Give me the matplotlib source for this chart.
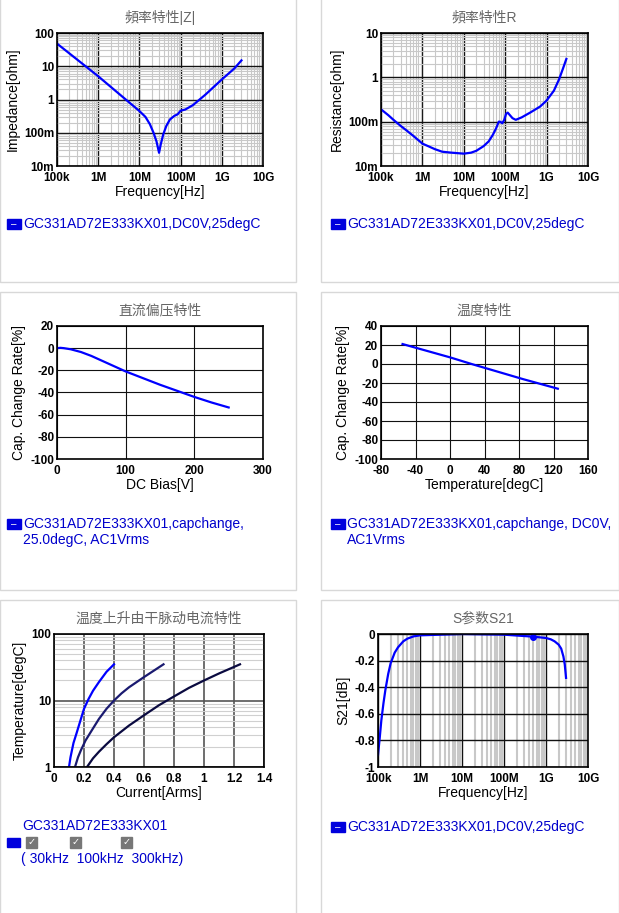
import numpy as np
import matplotlib.pyplot as plt
from matplotlib.patches import Rectangle
from matplotlib.ticker import NullFormatter, LogLocator

plt.rcParams["font.family"] = ["Liberation Sans", "Noto Sans CJK SC"]
plt.rcParams["axes.unicode_minus"] = False
W, H = 619, 913

# ── Data ──
z_f = [1e5, 1e6, 1e7, 1.4e7, 1.8e7, 2.2e7, 2.6e7, 3e7, 3.3e7, 3.8e7, 4.5e7, 5.5e7, 7e7, 8.5e7,
       1e8, 1.3e8, 2e8, 4e8, 1e9, 2e9, 3e9]
z_v = [48, 5, 0.45, 0.3, 0.18, 0.1, 0.055, 0.025, 0.045, 0.09, 0.16, 0.25, 0.32, 0.36,
       0.46, 0.5, 0.68, 1.4, 4, 8.5, 15]
r_f = [1e5, 1.5e5, 2e5, 3e5, 4e5, 6e5, 1e6, 2e6, 3e6, 5e6, 1e7, 1.5e7, 2e7, 3e7, 4e7, 5e7, 6e7,
       7e7, 7.5e7, 8.5e7, 9.5e7, 1.05e8, 1.15e8, 1.3e8, 1.5e8, 1.8e8, 2.5e8, 4e8, 7e8, 1e9,
       1.5e9, 2e9, 2.5e9, 3e9]
r_v = [0.19, 0.14, 0.11, 0.08, 0.065, 0.048, 0.032, 0.024, 0.021, 0.02, 0.019, 0.02, 0.022, 0.028,
       0.036, 0.05, 0.07, 0.1, 0.1, 0.092, 0.11, 0.15, 0.16, 0.14, 0.12, 0.11, 0.125, 0.16, 0.22,
       0.3, 0.5, 0.9, 1.6, 2.6]
dc_v = [0, 5, 10, 20, 35, 50, 75, 100, 125, 150, 175, 200, 225, 250]
dc_c = [0, 0.3, 0, -1, -3.5, -7, -14, -21, -27, -33, -38.5, -44, -49, -53.5]
t_t = [-55, 0, 25, 85, 125]
t_c = [21, 7, 0, -16, -26]
cur_30k = ([0.1, 0.11, 0.12, 0.13, 0.15, 0.17, 0.2, 0.23, 0.26, 0.3, 0.35, 0.4],
           [1, 1.4, 1.8, 2.3, 3.2, 4.5, 7.5, 10.5, 14, 19, 27, 35])
cur_100k = ([0.14, 0.16, 0.18, 0.21, 0.25, 0.3, 0.35, 0.4, 0.45, 0.5, 0.6, 0.73],
            [1, 1.4, 1.8, 2.5, 3.5, 5.3, 7.5, 10, 12.8, 15.8, 22.5, 35])
cur_300k = ([0.22, 0.26, 0.3, 0.35, 0.4, 0.5, 0.6, 0.7, 0.8, 0.9, 1.0, 1.1, 1.24],
            [1, 1.35, 1.7, 2.2, 2.8, 4.2, 6, 8.5, 11.5, 15.5, 20, 25.5, 35])
s_f = [1e5, 1.1e5, 1.2e5, 1.35e5, 1.5e5, 1.75e5, 2e5, 2.5e5, 3e5, 4e5, 5e5, 7e5, 1e6, 1e7, 1e8,
       5e8, 1e9, 1.3e9, 1.6e9, 2e9, 2.3e9, 2.6e9, 2.8e9, 3e9]
s_v = [-0.91, -0.78, -0.65, -0.52, -0.42, -0.3, -0.22, -0.14, -0.1, -0.055, -0.035, -0.018, -0.01,
       0.0, -0.005, -0.02, -0.03, -0.04, -0.055, -0.08, -0.11, -0.17, -0.23, -0.33]

BLUE = "#0000ff"
fig = plt.figure(figsize=(W / 100, H / 100), dpi=100)

# cell borders
for x0, x1 in [(0, 296), (321, 619)]:
    for y0, y1 in [(-2, 282), (292, 590), (600, 915)]:
        fig.patches.append(Rectangle((x0 / W, 1 - y1 / H), (x1 - x0) / W, (y1 - y0) / H,
                                     transform=fig.transFigure, fill=False, ec="#d8d8d8", lw=1))


def make_ax(x0, y0, x1, y1):
    return fig.add_axes([x0 / W, 1 - y1 / H, (x1 - x0) / W, (y1 - y0) / H])


def style(ax, title, xlabel, ylabel):
    ax.set_title(title, fontsize=10, color="#666666", pad=8)
    ax.set_xlabel(xlabel, fontsize=10, labelpad=1)
    ax.set_ylabel(ylabel, fontsize=10, labelpad=3)
    ax.tick_params(which="both", labelsize=8.5, length=0)
    ax.tick_params(axis="x", pad=4)
    ax.tick_params(axis="y", pad=2)
    for lab in ax.get_xticklabels() + ax.get_yticklabels():
        lab.set_fontweight("bold")
    for s in ax.spines.values():
        s.set_linewidth(1.2)


def freq_axis(ax):
    ax.set_xscale("log")
    ax.set_xlim(1e5, 1e10)
    ax.set_xticks([1e5, 1e6, 1e7, 1e8, 1e9, 1e10])
    ax.set_xticklabels(["100k", "1M", "10M", "100M", "1G", "10G"])
    ax.xaxis.set_minor_locator(LogLocator(base=10, subs=np.arange(2, 10), numticks=100))
    ax.xaxis.set_minor_formatter(NullFormatter())


def grids(ax, axis="both", mcolor="#c8c8c8", mlw=0.8):
    ax.grid(True, which="minor", axis=axis, color=mcolor, lw=mlw)
    ax.grid(True, which="major", color="#111111", lw=1.0)
    ax.set_axisbelow(True)


def legend(x, y, text):
    fig.patches.append(Rectangle((x / W, 1 - (y + 5) / H), 14 / W, 10 / H,
                                 transform=fig.transFigure, color="#0000dd"))
    fig.text((x + 7) / W, 1 - y / H, "–", color="white", ha="center", va="center", fontsize=7)
    fig.text((x + 16) / W, 1 - y / H, text, color="#0000cc", va="center", fontsize=10)


# Panel 1: |Z|
ax = make_ax(57, 33, 263, 166)
freq_axis(ax)
ax.set_yscale("log")
ax.set_ylim(0.01, 100)
ax.set_yticks([0.01, 0.1, 1, 10, 100])
ax.set_yticklabels(["10m", "100m", "1", "10", "100"])
ax.yaxis.set_minor_formatter(NullFormatter())
ax.plot(z_f, z_v, color=BLUE, lw=1.6)
style(ax, "頻率特性|Z|", "Frequency[Hz]", "Impedance[ohm]")
grids(ax)
legend(7, 224, "GC331AD72E333KX01,DC0V,25degC")

# Panel 2: R
ax = make_ax(381, 33, 588, 166)
freq_axis(ax)
ax.set_yscale("log")
ax.set_ylim(0.01, 10)
ax.set_yticks([0.01, 0.1, 1, 10])
ax.set_yticklabels(["10m", "100m", "1", "10"])
ax.yaxis.set_minor_formatter(NullFormatter())
ax.plot(r_f, r_v, color=BLUE, lw=1.6)
style(ax, "頻率特性R", "Frequency[Hz]", "Resistance[ohm]")
grids(ax)
legend(331, 224, "GC331AD72E333KX01,DC0V,25degC")

# Panel 3: DC bias
ax = make_ax(57, 326, 263, 459)
ax.set_xlim(0, 300)
ax.set_ylim(-100, 20)
ax.set_xticks([0, 100, 200, 300])
ax.set_yticks(range(-100, 21, 20))
ax.plot(dc_v, dc_c, color=BLUE, lw=1.6)
style(ax, "直流偏压特性", "DC Bias[V]", "Cap. Change Rate[%]")
ax.grid(True, color="#111111", lw=0.8)
legend(7, 524, "GC331AD72E333KX01,capchange,")
fig.text(23 / W, 1 - 540 / H, "25.0degC, AC1Vrms", color="#0000cc", va="center", fontsize=10)

# Panel 4: temperature
ax = make_ax(381, 326, 588, 459)
ax.set_xlim(-80, 160)
ax.set_ylim(-100, 40)
ax.set_xticks(range(-80, 161, 40))
ax.set_yticks(range(-100, 41, 20))
ax.plot(t_t, t_c, color=BLUE, lw=1.6)
style(ax, "温度特性", "Temperature[degC]", "Cap. Change Rate[%]")
ax.grid(True, color="#111111", lw=0.8)
legend(331, 524, "GC331AD72E333KX01,capchange, DC0V,")
fig.text(347 / W, 1 - 540 / H, "AC1Vrms", color="#0000cc", va="center", fontsize=10)

# Panel 5: temperature rise
ax = make_ax(54, 634, 264, 767)
ax.set_xlim(0, 1.4)
ax.set_yscale("log")
ax.set_ylim(1, 100)
ax.set_xticks(np.arange(0, 1.41, 0.2))
ax.set_xticklabels(["0", "0.2", "0.4", "0.6", "0.8", "1", "1.2", "1.4"])
ax.set_yticks([1, 10, 100])
ax.set_yticklabels(["1", "10", "100"])
ax.yaxis.set_minor_formatter(NullFormatter())
ax.plot(*cur_30k, color=BLUE, lw=1.6)
ax.plot(*cur_100k, color="#1a1a70", lw=1.6)
ax.plot(*cur_300k, color="#0a0a40", lw=1.6)
style(ax, "温度上升由干脉动电流特性", "Current[Arms]", "Temperature[degC]")
ax.grid(True, which="minor", axis="y", color="#d0d0d0", lw=0.8)
ax.grid(True, which="major", color="#555555", lw=1.2)
ax.set_axisbelow(True)
fig.text(22 / W, 1 - 826 / H, "GC331AD72E333KX01", color="#0000cc", va="center", fontsize=10)
fig.patches.append(Rectangle((7 / W, 1 - 847 / H), 13 / W, 9 / H, transform=fig.transFigure, color="#0000dd"))
for bx in [26, 70, 121]:
    fig.patches.append(Rectangle((bx / W, 1 - 848 / H), 11 / W, 11 / H, transform=fig.transFigure,
                                 color="#777777"))
    fig.text((bx + 5.5) / W, 1 - 842 / H, "✓", color="white", ha="center", va="center", fontsize=7,
             fontfamily="DejaVu Sans")
fig.text(21 / W, 1 - 859 / H, "( 30kHz  100kHz  300kHz)", color="#0000cc", va="center", fontsize=10)

# Panel 6: S21
ax = make_ax(378, 634, 588, 767)
freq_axis(ax)
ax.set_ylim(-1, 0)
ax.set_yticks(np.arange(-1, 0.01, 0.2))
ax.set_yticklabels(["-1", "-0.8", "-0.6", "-0.4", "-0.2", "0"])
ax.plot(s_f, s_v, color=BLUE, lw=1.6)
ax.plot([5e8], [-0.02], "o", color=BLUE, ms=4)
style(ax, "S参数S21", "Frequency[Hz]", "S21[dB]")
grids(ax, axis="x", mlw=1.5)
legend(331, 827, "GC331AD72E333KX01,DC0V,25degC")

fig.savefig("out.png", dpi=100)
